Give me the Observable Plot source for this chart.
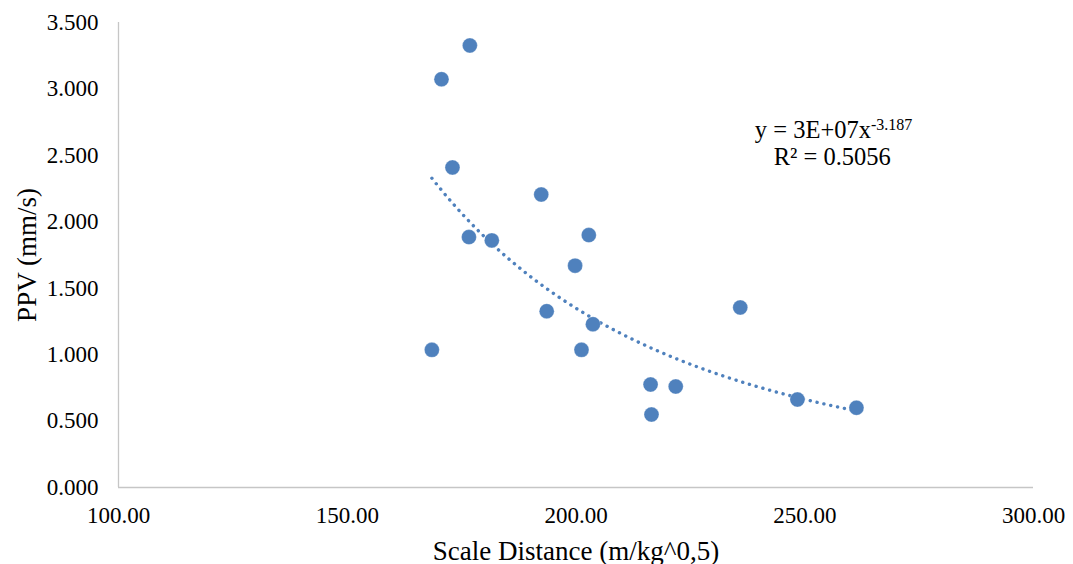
<!DOCTYPE html>
<html>
<head>
<meta charset="utf-8">
<script src="https://cdn.jsdelivr.net/npm/d3@7"></script>
<script src="https://cdn.jsdelivr.net/npm/@observablehq/plot@0.6"></script>
<style>
  html, body { margin: 0; padding: 0; background: #fff; }
  #chart svg { display: block; }
</style>
</head>
<body>
<div id="chart"></div>
<script>
// Scale distance (m/kg^0,5)
const scaleDistance = [168.5, 170.6, 173.0, 176.8, 176.6, 181.6, 192.4, 193.6, 199.8, 201.2, 202.8, 203.7, 216.3, 216.5, 221.8, 235.9, 248.4, 261.3];
// PPV (mm/s)
const ppv = [1.036, 3.073, 2.409, 3.327, 1.885, 1.86, 2.205, 1.327, 1.67, 1.036, 1.90, 1.229, 0.775, 0.549, 0.760, 1.355, 0.662, 0.600];
const xTicks = [100, 150, 200, 250, 300];
const yTicks = [0, 0.5, 1, 1.5, 2, 2.5, 3, 3.5];
const xTitle = "Scale Distance (m/kg^0,5)";
const yTitle = "PPV (mm/s)";
const eqLine1 = "y = 3E+07x";
const eqExponent = "-3.187";
const eqLine2 = "R² = 0.5056";

const data = scaleDistance.map((x, i) => ({x, y: ppv[i]}));

// Power trendline (least squares in log-log space, as a spreadsheet does)
const lx = data.map(d => Math.log(d.x)), ly = data.map(d => Math.log(d.y));
const mx = d3.mean(lx), my = d3.mean(ly);
const b = d3.sum(lx, (v, i) => (v - mx) * (ly[i] - my)) / d3.sum(lx, v => (v - mx) ** 2);
const a = Math.exp(my - b * mx);
const [x0, x1] = d3.extent(scaleDistance);
const trend = d3.range(0, 101).map(i => {
  const x = x0 + (x1 - x0) * i / 100;
  return {x, y: a * Math.pow(x, b)};
});

const blue = "#4F81BD";
const font = "'Liberation Serif', 'Times New Roman', serif";

const plot = Plot.plot({
  width: 1073,
  height: 564,
  marginLeft: 118,
  marginRight: 40,
  marginTop: 22,
  marginBottom: 77,
  style: {fontFamily: font, fontSize: "23px", color: "#000", background: "#fff"},
  x: {domain: [100, 300]},
  y: {domain: [0, 3.5]},
  marks: [
    Plot.ruleX([100], {stroke: "#c6c6c6", strokeWidth: 1.3}),
    Plot.ruleY([0], {stroke: "#c6c6c6", strokeWidth: 1.3}),
    Plot.axisX({ticks: xTicks, tickFormat: d3.format(".2f"), tickSize: 0, tickPadding: 19, label: null}),
    Plot.axisY({ticks: yTicks, tickFormat: d3.format(".3f"), tickSize: 0, tickPadding: 20, label: null}),
    Plot.text([xTitle], {text: d => d, frameAnchor: "bottom", dy: 72, lineAnchor: "bottom", textAnchor: "middle", fontSize: 27, fill: "#000"}),
    Plot.text([yTitle], {text: d => d, frameAnchor: "left", dx: -83, rotate: -90, lineAnchor: "bottom", textAnchor: "middle", fontSize: 27, fill: "#000"}),
    Plot.line(trend, {x: "x", y: "y", stroke: blue, strokeWidth: 3.4, strokeDasharray: "0.1 6.9", strokeLinecap: "round"}),
    Plot.dot(data, {x: "x", y: "y", r: 7.5, fill: blue, stroke: "#ffffff", strokeOpacity: 0.35, strokeWidth: 0.8}),
    Plot.text([eqLine1], {x: 256.3, y: 2.686, text: d => d, className: "eq1", fontSize: 24.5, fill: "#000"}),
    Plot.text([eqLine2], {x: 256.0, y: 2.483, text: d => d, fontSize: 24.5, fill: "#000"})
  ]
});

// superscript exponent on the equation
d3.select(plot).selectAll(".eq1 text").each(function() {
  d3.select(this).append("tspan")
    .attr("baseline-shift", "super")
    .attr("font-size", "16px")
    .text(eqExponent);
});

document.getElementById("chart").appendChild(plot);
</script>
</body>
</html>
